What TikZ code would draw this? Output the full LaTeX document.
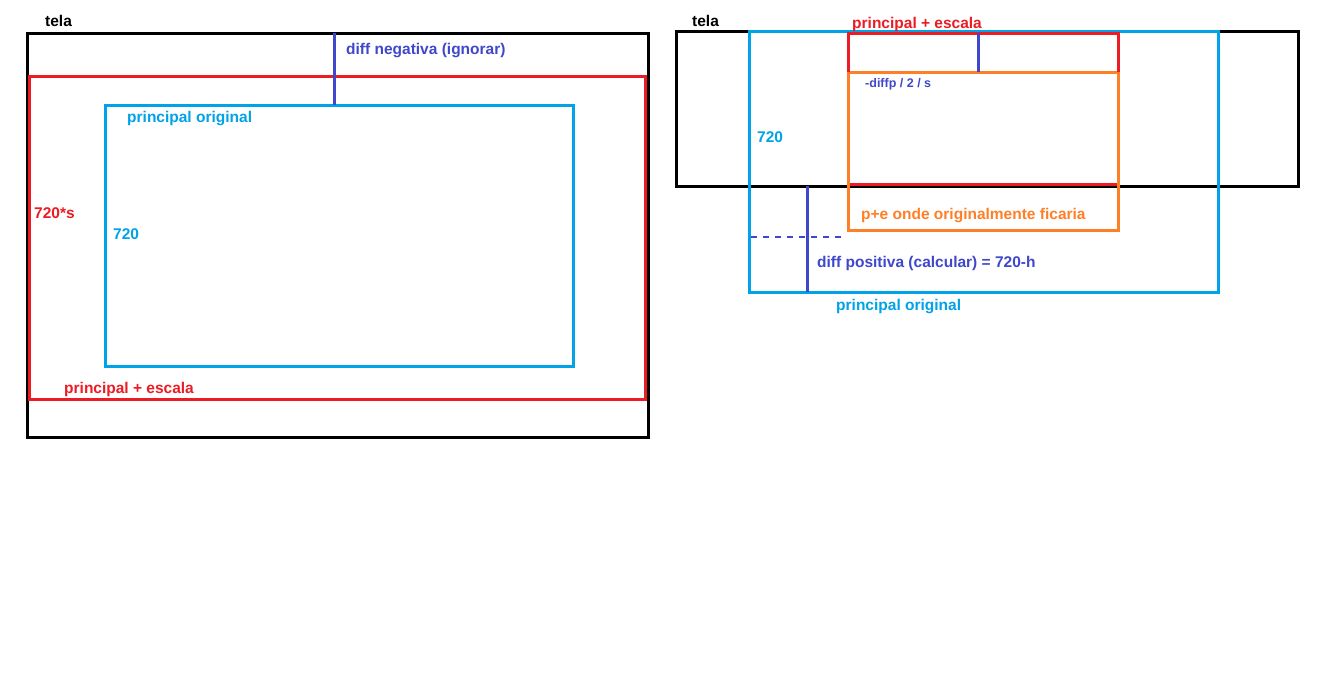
\documentclass[tikz,border=0pt]{standalone}
\usepackage{fontspec}
\setmainfont{Liberation Sans}
\definecolor{pred}{HTML}{ED1C24}
\definecolor{pblue}{HTML}{00A2E8}
\definecolor{ppurple}{HTML}{3F48CC}
\definecolor{porange}{HTML}{FF7F27}
\begin{document}
\begin{tikzpicture}[x=1pt,y=-1pt,
  frame/.style={line width=3pt},
  bar/.style={line width=3pt,ppurple},
  lbl/.style={anchor=base west,inner sep=0pt,font=\fontsize{15.5}{15.5}\selectfont\bfseries},
  small/.style={anchor=base west,inner sep=0pt,font=\fontsize{12.5}{12.5}\selectfont\bfseries}]
\useasboundingbox[fill=white] (0,0) rectangle (1318,696);
% ---------- left ----------
\draw[frame,black] (27,33) rectangle (648,437);
\draw[frame,pred] (29,76) rectangle (645,399);
\draw[frame,pblue] (105,105) rectangle (573,366);
\coordinate (lt) at (334,33);
\coordinate (lb) at (334,105);
\draw[bar] (lt) -- (lb);
\node[lbl,black] (ltela) at (45,26.5) {tela};
\node[lbl,ppurple] (ldiff) at (346,54.5) {diff negativa (ignorar)};
\node[lbl,pblue] (lpo) at (127,122.5) {principal original};
\node[lbl,pred] (l720s) at (34,218.5) {720*s};
\node[lbl,pblue] (l720) at (113,239.5) {720};
\node[lbl,pred] (lpe) at (64,393.5) {principal + escala};
% ---------- right ----------
\draw[frame,black] (676,31) rectangle (1298,186);
\draw[frame,pblue] (749,31) rectangle (1218,292);
\draw[frame,porange] (848,72) rectangle (1118,230);
\draw[frame,pred] (848,72) -- (848,33) -- (1118,33) -- (1118,72);
\draw[frame,pred] (849.5,184) -- (1116.5,184);
\coordinate (rt) at (978,33);
\coordinate (rb) at (978,72);
\draw[bar] (rt) -- (rb);
\coordinate (rt2) at (807,186);
\coordinate (rb2) at (807,292);
\draw[bar] (rt2) -- (rb2);
\coordinate (dl) at (751,237);
\coordinate (dr) at (843,237);
\draw[line width=1.2pt,ppurple,dash pattern=on 6pt off 6pt] (dl) -- (dr);
\node[lbl,black] (rtela) at (692,26.5) {tela};
\node[lbl,pred] (rpe) at (852,28.5) {principal + escala};
\node[small,ppurple] (rdp) at (865,87.5) {-diffp / 2 / s};
\node[lbl,pblue] (r720) at (757,142.5) {720};
\node[lbl,porange] (rorig) at (861,219.5) {p+e onde originalmente ficaria};
\node[lbl,ppurple] (rdiff) at (817,267.5) {diff positiva (calcular) = 720-h};
\node[lbl,pblue] (rpo) at (836,310.5) {principal original};
\end{tikzpicture}
\end{document}
